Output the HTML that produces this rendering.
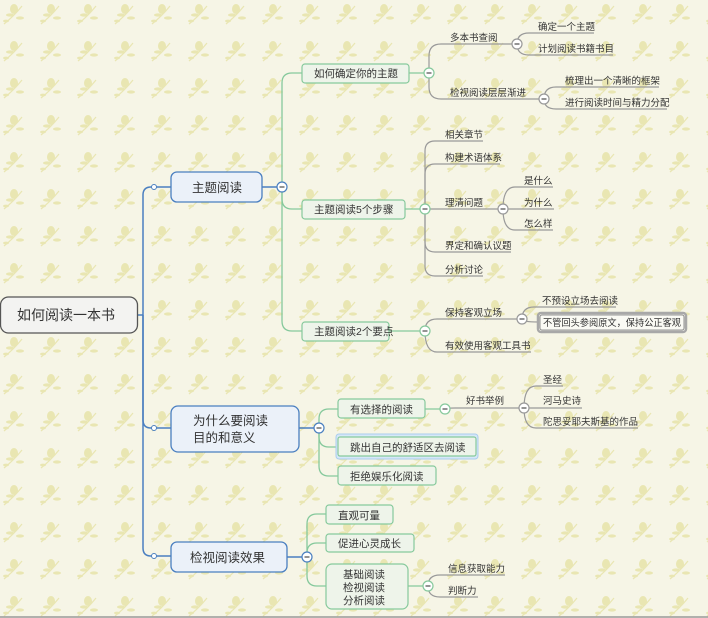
<!DOCTYPE html>
<html><head><meta charset="utf-8"><style>
html,body{margin:0;padding:0;width:708px;height:618px;overflow:hidden;background:#f6f5e4}
svg{display:block}
text{font-family:"Liberation Sans","Noto Sans CJK SC",sans-serif;fill:#333}
.s{font-size:9.5px}
.m{font-size:10.5px}
</style></head><body>
<svg width="708" height="618" xmlns="http://www.w3.org/2000/svg">
<defs>
<pattern id="p" width="37" height="37" patternUnits="userSpaceOnUse">
<rect width="37" height="37" fill="#f6f5e6"/>
<g fill="#e9e6b2">
<ellipse cx="14" cy="9" rx="4" ry="5"/>
<ellipse cx="10" cy="15" rx="4" ry="1.6"/>
<ellipse cx="20" cy="18" rx="4" ry="1.6"/>
<ellipse cx="6" cy="21" rx="3" ry="1.4"/>
<path d="M4 24 Q14 16 22 6" stroke="#e9e6b2" stroke-width="1.2" fill="none"/>
</g>
</pattern>
</defs>
<rect width="708" height="618" fill="url(#p)"/>
<line x1="0" y1="617" x2="708" y2="617" stroke="#999" stroke-width="1.5"/>

<g fill="none" stroke="#4a7fc0" stroke-width="1.5">
<path d="M137 315 H143"/>
<path d="M143 315 V195 Q143 187 151 187 H171"/>
<path d="M143 315 V420 Q143 428 151 428 H171"/>
<path d="M143 315 V548 Q143 556 151 556 H171"/>
<path d="M262 187 H282"/><path d="M299 428 H319"/><path d="M287 557 H307"/>
</g>
<g fill="#fff" stroke="#4a7fc0" stroke-width="1">
<circle cx="154" cy="187" r="2.5"/><circle cx="154" cy="428" r="2.5"/><circle cx="154" cy="556" r="2.5"/>
</g>

<g fill="none" stroke="#86c99c" stroke-width="1.3">
<path d="M282 187 V83 Q282 73 292 73 H302"/>
<path d="M282 187 V199 Q282 209 292 209 H302"/>
<path d="M282 187 V321 Q282 331 292 331 H302"/>
<path d="M409 73 H429"/><path d="M405 209 H425"/><path d="M389 331 H425"/>
<path d="M319 428 V419 Q319 409 329 409 H338"/>
<path d="M319 428 V437 Q319 447 329 447 H338"/>
<path d="M319 428 V466 Q319 476 329 476 H338"/>
<path d="M425 409 H445"/>
<path d="M307 557 V524 Q307 514 317 514 H326"/>
<path d="M307 557 V553 Q307 543 317 543 H326"/>
<path d="M307 557 V576 Q307 586 317 586 H326"/>
<path d="M408 586 H428"/>
</g>

<g fill="none" stroke="#9a9a9a" stroke-width="1.2">
<path d="M429 73 V56 Q429 44 441 44 H517"/>
<path d="M429 73 V87 Q429 99 441 99 H544"/>
<path d="M517 44 Q517 33 529 33 H594"/>
<path d="M517 44 Q517 55 529 55 H613"/>
<path d="M544 99 Q544 87 556 87 H659"/>
<path d="M544 99 Q544 109 556 109 H667"/>
<path d="M425 209 V151 Q425 141 435 141 H483"/>
<path d="M425 209 V174 Q425 164 435 164 H500"/>
<path d="M425 209 H503"/>
<path d="M425 209 V242 Q425 252 435 252 H511"/>
<path d="M425 209 V266 Q425 276 435 276 H483"/>
<path d="M503 209 Q503 187 515 187 H553"/>
<path d="M503 209 H554"/>
<path d="M503 209 Q503 230 515 230 H553"/>
<path d="M425 331 Q425 319 437 319 H522"/>
<path d="M425 331 Q425 352 437 352 H531"/>
<path d="M522 319 Q522 307 534 307 H616"/>
<path d="M522 319 Q522 322 538 322"/>
<path d="M445 409 Q445 408 455 408 H524"/>
<path d="M524 408 Q524 386 536 386 H563"/>
<path d="M524 408 H582"/>
<path d="M524 408 Q524 428 536 428 H638"/>
<path d="M428 586 Q428 575 440 575 H505"/>
<path d="M428 586 Q428 597 440 597 H478"/>
</g>

<g fill="#fff" stroke-width="1.2">
<g stroke="#4a7fc0"><circle cx="282" cy="187" r="5"/><circle cx="319" cy="428" r="5"/><circle cx="307" cy="557" r="5"/></g>
<g stroke="#86c99c"><circle cx="429" cy="73" r="5"/><circle cx="425" cy="209" r="5"/><circle cx="425" cy="331" r="5"/><circle cx="445" cy="409" r="5"/><circle cx="428" cy="586" r="5"/></g>
<g stroke="#999"><circle cx="517" cy="44" r="5"/><circle cx="544" cy="99" r="5"/><circle cx="503" cy="209" r="5"/><circle cx="522" cy="319" r="5"/><circle cx="524" cy="408" r="5"/></g>
</g>
<g stroke="#555" stroke-width="1.3">
<path d="M279.5 187h5M316.5 428h5M304.5 557h5M426.5 73h5M422.5 209h5M422.5 331h5M442.5 409h5M425.5 586h5M514.5 44h5M541.5 99h5M500.5 209h5M519.5 319h5M521.5 408h5"/>
</g>

<rect x="0.5" y="297" width="137" height="36" rx="8" fill="#f3f3f1" stroke="#555" stroke-width="1.3"/>
<text x="17" y="320" style="font-size:14px">如何阅读一本书</text>

<g fill="#ebf1f9" stroke="#4a7fc0" stroke-width="1.3">
<rect x="171" y="172" width="91" height="30" rx="6"/>
<rect x="171" y="406" width="128" height="46" rx="7"/>
<rect x="171" y="542" width="116" height="30" rx="6"/>
</g>
<text x="192" y="192" style="font-size:12.5px">主题阅读</text>
<text x="193" y="425" style="font-size:12.5px">为什么要阅读</text>
<text x="193" y="442" style="font-size:12.5px">目的和意义</text>
<text x="190" y="562" style="font-size:12.5px">检视阅读效果</text>

<rect x="336" y="434" width="142" height="25" rx="3" fill="#d6e8f8" stroke="#a9cdee" stroke-width="1"/>
<g fill="#eef4ea" stroke="#86c99c" stroke-width="1.2">
<rect x="302" y="64" width="107" height="19" rx="3"/>
<rect x="302" y="200" width="103" height="19" rx="3"/>
<rect x="302" y="322" width="87" height="19" rx="3"/>
<rect x="338" y="399" width="87" height="19" rx="3"/>
<rect x="338" y="437" width="138" height="19" rx="2"/>
<rect x="338" y="466" width="98" height="19" rx="3"/>
<rect x="326" y="505" width="67" height="19" rx="3"/>
<rect x="326" y="534" width="88" height="18" rx="3"/>
<rect x="326" y="564" width="82" height="45" rx="6"/>
</g>
<g>
<text x="314" y="77" class="m">如何确定你的主题</text>
<text x="314" y="213" class="m">主题阅读5个步骤</text>
<text x="314" y="335" class="m">主题阅读2个要点</text>
<text x="350" y="413" class="m">有选择的阅读</text>
<text x="350" y="451" class="m">跳出自己的舒适区去阅读</text>
<text x="350" y="480" class="m">拒绝娱乐化阅读</text>
<text x="338" y="519" class="m">直观可量</text>
<text x="338" y="547" class="m">促进心灵成长</text>
<text x="343" y="578" class="m">基础阅读</text>
<text x="343" y="591" class="m">检视阅读</text>
<text x="343" y="604" class="m">分析阅读</text>
</g>

<rect x="538" y="313" width="148" height="19" rx="3" fill="#f4f4ee" stroke="#a8a8a8" stroke-width="2.5"/>
<rect x="540" y="315" width="144" height="15" rx="2" fill="#fafaf4" stroke="#777" stroke-width="0.8"/>

<g>
<text x="450" y="41" class="s">多本书查阅</text>
<text x="538" y="30" class="s">确定一个主题</text>
<text x="538" y="52" class="s">计划阅读书籍书目</text>
<text x="450" y="96" class="s">检视阅读层层渐进</text>
<text x="565" y="84" class="s">梳理出一个清晰的框架</text>
<text x="565" y="106" class="s">进行阅读时间与精力分配</text>
<text x="445" y="138" class="s">相关章节</text>
<text x="445" y="161" class="s">构建术语体系</text>
<text x="445" y="206" class="s">理清问题</text>
<text x="445" y="249" class="s">界定和确认议题</text>
<text x="445" y="273" class="s">分析讨论</text>
<text x="524" y="184" class="s">是什么</text>
<text x="524" y="206" class="s">为什么</text>
<text x="524" y="227" class="s">怎么样</text>
<text x="445" y="316" class="s">保持客观立场</text>
<text x="542" y="304" class="s">不预设立场去阅读</text>
<text x="543" y="326" class="s" textLength="138" lengthAdjust="spacingAndGlyphs">不管回头参阅原文，保持公正客观</text>
<text x="445" y="349" class="s">有效使用客观工具书</text>
<text x="466" y="404" class="s">好书举例</text>
<text x="543" y="383" class="s">圣经</text>
<text x="543" y="404" class="s">河马史诗</text>
<text x="543" y="425" class="s">陀思妥耶夫斯基的作品</text>
<text x="448" y="572" class="s">信息获取能力</text>
<text x="448" y="594" class="s">判断力</text>
</g>
</svg>
</body></html>
